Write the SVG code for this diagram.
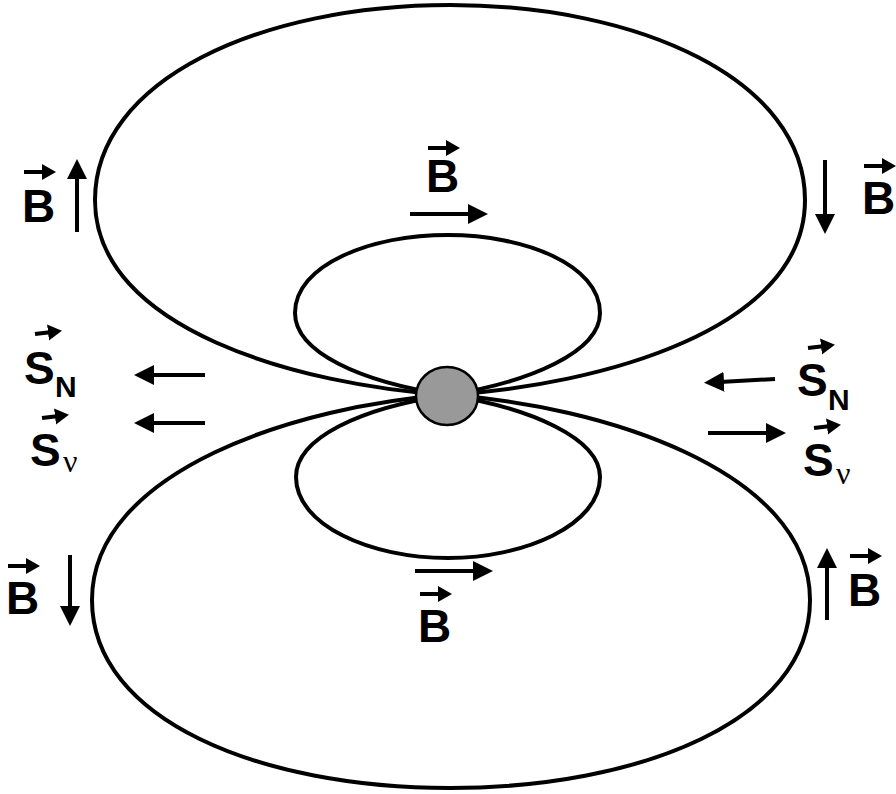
<svg xmlns="http://www.w3.org/2000/svg" width="896" height="794" viewBox="0 0 896 794">
<style>
.loop{fill:none;stroke:#000;stroke-width:4}
.ar{stroke:#000;stroke-width:4;marker-end:url(#h)}
.va{stroke:#000;stroke-width:4;marker-end:url(#hs)}
.t{font-family:"Liberation Sans",Arial,sans-serif;font-weight:bold;font-size:46px}
.n{font-family:"Liberation Sans",Arial,sans-serif;font-weight:bold;font-size:30px}
.nu{font-family:"Liberation Serif","Times New Roman",serif;font-size:32px}
</style>
<defs>
<marker id="h" markerWidth="6" markerHeight="5" refX="1" refY="2.5" orient="auto" markerUnits="strokeWidth"><path d="M0,0L5,2.5L0,5z"/></marker>
<marker id="hs" markerWidth="5" markerHeight="5" refX="1" refY="2.5" orient="auto" markerUnits="strokeWidth"><path d="M0,0.5L3.5,2.5L0,4.5z"/></marker>
</defs>
<g id="loops">
<path class="loop" d="M448,395 C300,385 95,330 95,200 C95,80 260,5 450,5 C640,5 805,80 805,200 C805,330 600,385 448,395"/>
<path class="loop" d="M448,395 C360,382 295,352 295,313 C295,265 370,235 448,235 C525,235 600,265 600,313 C600,352 530,382 448,395"/>
<path class="loop" d="M448,395 C300,405 92,470 92,600 C92,720 260,788 450,788 C640,788 810,720 810,600 C810,470 600,405 448,395"/>
<path class="loop" d="M448,395 C360,408 296,438 296,477 C296,525 370,558 448,558 C525,558 600,525 600,477 C600,438 530,408 448,395"/>
</g>
<ellipse id="core" cx="447" cy="396" rx="31" ry="29" fill="#999" stroke="#000" stroke-width="2.5"/>
<g id="connectors">
<line class="ar" x1="77" y1="232" x2="77" y2="175"/>
<line class="ar" x1="410" y1="214" x2="472" y2="214"/>
<line class="ar" x1="825" y1="160" x2="825" y2="218"/>
<line class="ar" x1="70" y1="555" x2="70" y2="610"/>
<line class="ar" x1="415" y1="571" x2="477" y2="571"/>
<line class="ar" x1="827" y1="620" x2="827" y2="564"/>
<line class="ar" x1="205" y1="375" x2="150" y2="375"/>
<line class="ar" x1="205" y1="423" x2="150" y2="423"/>
<line class="ar" x1="775" y1="379" x2="720" y2="382"/>
<line class="ar" x1="708" y1="433" x2="770" y2="433"/>
</g>
<g id="labels">
<g id="bTL"><line class="va" x1="24" y1="172" x2="46" y2="172"/><text class="t" x="22" y="222">B</text></g>
<g id="bT"><line class="va" x1="428" y1="148" x2="450" y2="148"/><text class="t" x="426" y="192">B</text></g>
<g id="bTR"><line class="va" x1="864" y1="166" x2="886" y2="166"/><text class="t" x="862" y="214">B</text></g>
<g id="bBL"><line class="va" x1="8" y1="566" x2="30" y2="566"/><text class="t" x="6" y="614">B</text></g>
<g id="bB"><line class="va" x1="420" y1="594" x2="442" y2="594"/><text class="t" x="418" y="642">B</text></g>
<g id="bBR"><line class="va" x1="850" y1="556" x2="872" y2="556"/><text class="t" x="848" y="606">B</text></g>
<g id="snL"><line class="va" x1="35" y1="334" x2="52" y2="332"/><text class="t" x="24" y="384">S</text><text class="n" x="55" y="397">N</text></g>
<g id="svL"><line class="va" x1="42" y1="418" x2="59" y2="416"/><text class="t" x="30" y="466">S</text><text class="nu" x="63" y="472">ν</text></g>
<g id="snR"><line class="va" x1="808" y1="348" x2="825" y2="346"/><text class="t" x="797" y="396">S</text><text class="n" x="828" y="410">N</text></g>
<g id="svR"><line class="va" x1="814" y1="428" x2="831" y2="426"/><text class="t" x="803" y="476">S</text><text class="nu" x="836" y="484">ν</text></g>
</g>
</svg>
